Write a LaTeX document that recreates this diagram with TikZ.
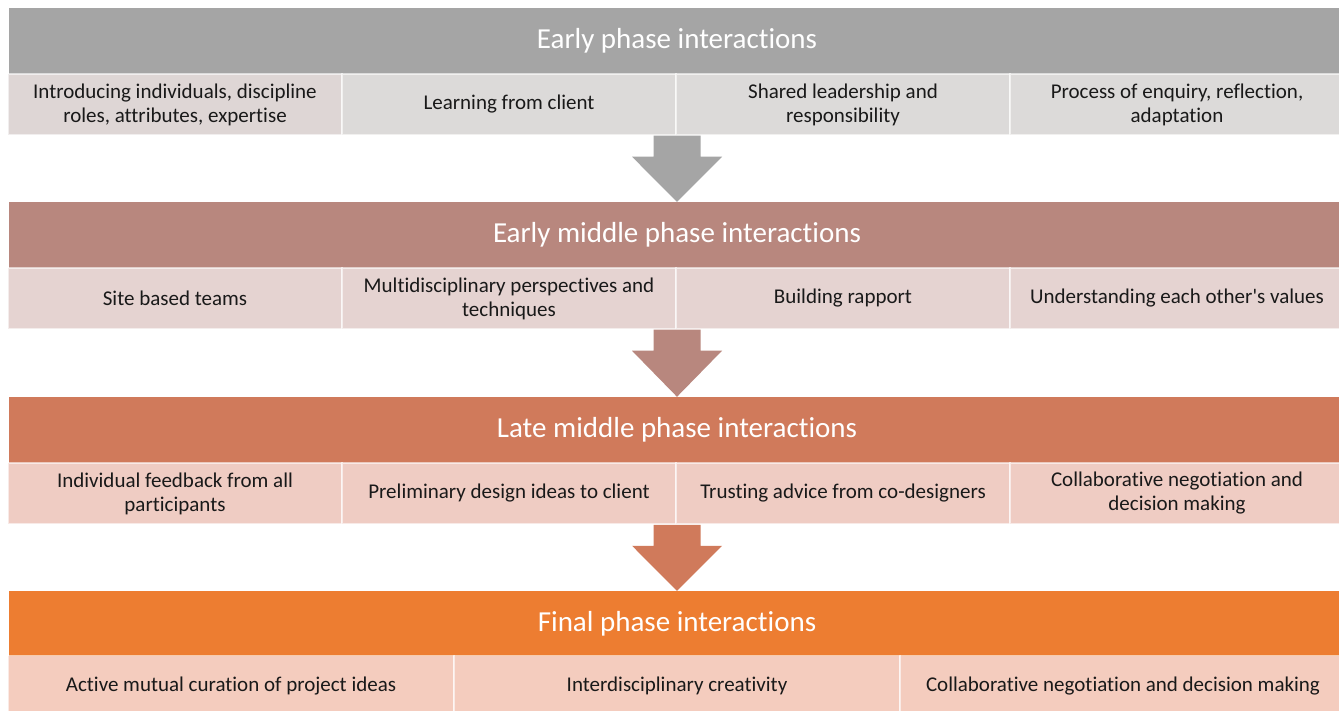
\documentclass[tikz,border=0pt]{standalone}
\usepackage{fontspec}
\setmainfont{Carlito}[RawFeature={-liga;-clig;-calt;-dlig;-rlig}]
\usetikzlibrary{calc}

\definecolor{greyhead}{HTML}{A5A5A5}
\definecolor{greycell}{HTML}{DCDAD9}
\definecolor{greycellb}{HTML}{DED6D5}
\definecolor{rosehead}{HTML}{B8877E}
\definecolor{rosecell}{HTML}{E5D3D1}
\definecolor{rusthead}{HTML}{D07A5B}
\definecolor{rustcell}{HTML}{EFCCC3}
\definecolor{orangehead}{HTML}{ED7D31}
\definecolor{orangecell}{HTML}{F4CCBE}

% block arrow from a row bottom down to the tip on the next header
\newcommand{\phasearrow}[3]{\fill[#3] ($(#1)+(-23.5,0)$) -- ++(0,21) -- ++(-21.5,0) -- (#2) -- ($(#1)+(45,21)$) -- ++(-21.5,0) -- ++(0,-21) -- cycle;}

\begin{document}
\begin{tikzpicture}[x=1pt, y=-1pt,
	phase/.style={fill=#1, text=white, inner sep=0pt, minimum width=1336pt, minimum height=66pt, font=\fontsize{29}{34}\selectfont},
	cell/.style={fill=#1, draw=white, draw opacity=0.6, line width=1.5pt, inner sep=0pt, minimum width=334pt, minimum height=61pt, align=center, text=black!90, font=\fontsize{21}{24}\selectfont},
	widecell/.style={cell=#1, minimum width=446pt}]
			%%%%% START %%%%%
			\useasboundingbox (0,0) rectangle (1339,711);
			\clip (0,0) rectangle (1339,711);
			
			% early phase
			\node[phase=greyhead] (h1) at (677,41) {Early phase interactions};
			\node[cell=greycellb] (c11) at (175,104.5) {Introducing individuals, discipline\\roles, attributes, expertise};
			\node[cell=greycell] (c12) at (509,104.5) {Learning from client};
			\node[cell=greycell] (c13) at (843,104.5) {Shared leadership and\\responsibility};
			\node[cell=greycell] (c14) at (1177,104.5) {Process of enquiry, reflection,\\adaptation};
			
			% early middle phase
			\node[phase=rosehead] (h2) at (677,235) {Early middle phase interactions};
			\node[cell=rosecell] (c21) at (175,298.5) {Site based teams};
			\node[cell=rosecell] (c22) at (509,298.5) {Multidisciplinary perspectives and\\techniques};
			\node[cell=rosecell] (c23) at (843,298.5) {Building rapport};
			\node[cell=rosecell] (c24) at (1177,298.5) {Understanding each other\textquotesingle s values};
			
			% late middle phase
			\node[phase=rusthead] (h3) at (677,430) {Late middle phase interactions};
			\node[cell=rustcell] (c31) at (175,493.5) {Individual feedback from all\\participants};
			\node[cell=rustcell] (c32) at (509,493.5) {Preliminary design ideas to client};
			\node[cell=rustcell] (c33) at (843,493.5) {Trusting advice from co-designers};
			\node[cell=rustcell] (c34) at (1177,493.5) {Collaborative negotiation and\\decision making};
			
			% final phase
			\node[phase=orangehead] (h4) at (677,624) {Final phase interactions};
			\node[widecell=orangecell] (c41) at (231,686) {Active mutual curation of project ideas};
			\node[widecell=orangecell] (c42) at (677,686) {Interdisciplinary creativity};
			\node[widecell=orangecell] (c43) at (1123,686) {Collaborative negotiation and decision making};
			
			\coordinate (a1) at (h1.center |- c11.south);
			\coordinate (a2) at (h2.center |- c21.south);
			\coordinate (a3) at (h3.center |- c31.south);
			\phasearrow{a1}{h2.north}{greyhead}
			\phasearrow{a2}{h3.north}{rosehead}
			\phasearrow{a3}{h4.north}{rusthead}
			%%%%% END %%%%%
		\end{tikzpicture}
\end{document}
